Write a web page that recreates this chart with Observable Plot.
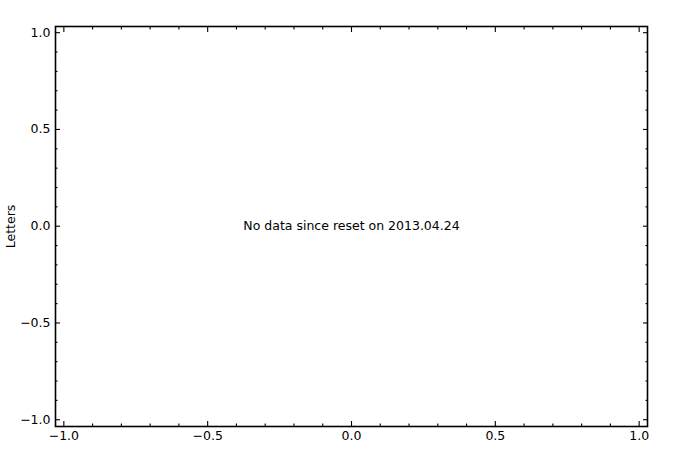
<!DOCTYPE html>
<html>
<head>
<meta charset="utf-8">
<script src="https://cdn.jsdelivr.net/npm/d3@7"></script>
<script src="https://cdn.jsdelivr.net/npm/@observablehq/plot@0.6"></script>
<style>
  html, body { margin: 0; padding: 0; background: #fff; }
  #chart svg { display: block; }
</style>
</head>
<body>
<div id="chart"></div>
<script>
const xMajor = [-1.0, -0.5, 0.0, 0.5, 1.0];
const xMinor = [-0.9, -0.8, -0.7, -0.6, -0.4, -0.3, -0.2, -0.1, 0.1, 0.2, 0.3, 0.4, 0.6, 0.7, 0.8, 0.9];
const yMajor = [-1.0, -0.5, 0.0, 0.5, 1.0];
const yMinor = [-0.9, -0.8, -0.7, -0.6, -0.4, -0.3, -0.2, -0.1, 0.1, 0.2, 0.3, 0.4, 0.6, 0.7, 0.8, 0.9];
const xDomain = [-1.029, 1.029];
const yDomain = [-1.035, 1.032];
const yLabel = "Letters";
const message = [{x: 0, y: 0, text: "No data since reset on 2013.04.24"}];

const fmt = d3.format(".1f");
const font = "DejaVu Sans, sans-serif";

const chart = Plot.plot({
  width: 696,
  height: 453,
  marginLeft: 55,
  marginRight: 49,
  marginTop: 26,
  marginBottom: 27,
  style: {fontFamily: font, fontSize: "12.5px", color: "black", background: "white"},
  x: {domain: xDomain, label: null},
  y: {domain: yDomain, label: null},
  marks: [
    // major ticks inward, all sides
    Plot.axisX(xMajor, {anchor: "bottom", tickSize: -5, strokeWidth: 1.1, tickFormat: () => "", label: null}),
    Plot.axisX(xMajor, {anchor: "top", tickSize: -5, strokeWidth: 1.1, tickFormat: () => "", label: null}),
    Plot.axisY(yMajor, {anchor: "left", tickSize: -5, strokeWidth: 1.1, tickFormat: () => "", label: null}),
    Plot.axisY(yMajor, {anchor: "right", tickSize: -5, strokeWidth: 1.1, tickFormat: () => "", label: null}),
    // minor ticks
    Plot.axisX(xMinor, {anchor: "bottom", tickSize: -2.5, strokeWidth: 1.1, tickFormat: () => "", label: null}),
    Plot.axisX(xMinor, {anchor: "top", tickSize: -2.5, strokeWidth: 1.1, tickFormat: () => "", label: null}),
    Plot.axisY(yMinor, {anchor: "left", tickSize: -2.5, strokeWidth: 1.1, tickFormat: () => "", label: null}),
    Plot.axisY(yMinor, {anchor: "right", tickSize: -2.5, strokeWidth: 1.1, tickFormat: () => "", label: null}),
    // labels
    Plot.axisX(xMajor, {anchor: "bottom", tickSize: 0, tickPadding: 5, tickFormat: fmt, label: null, fontSize: 12.5}),
    Plot.axisY(yMajor, {anchor: "left", tickSize: 0, tickPadding: 5, tickFormat: fmt, label: null, fontSize: 12.5}),
    Plot.frame({stroke: "black", strokeWidth: 1.6}),
    Plot.text([yLabel], {frameAnchor: "left", textAnchor: "middle", text: d => d, rotate: -90, dx: -45, fontSize: 12.5, fill: "black"}),
    Plot.text(message, {x: "x", y: "y", text: "text", fontSize: 12.5, fill: "black"})
  ]
});
document.getElementById("chart").appendChild(chart);
</script>
</body>
</html>
